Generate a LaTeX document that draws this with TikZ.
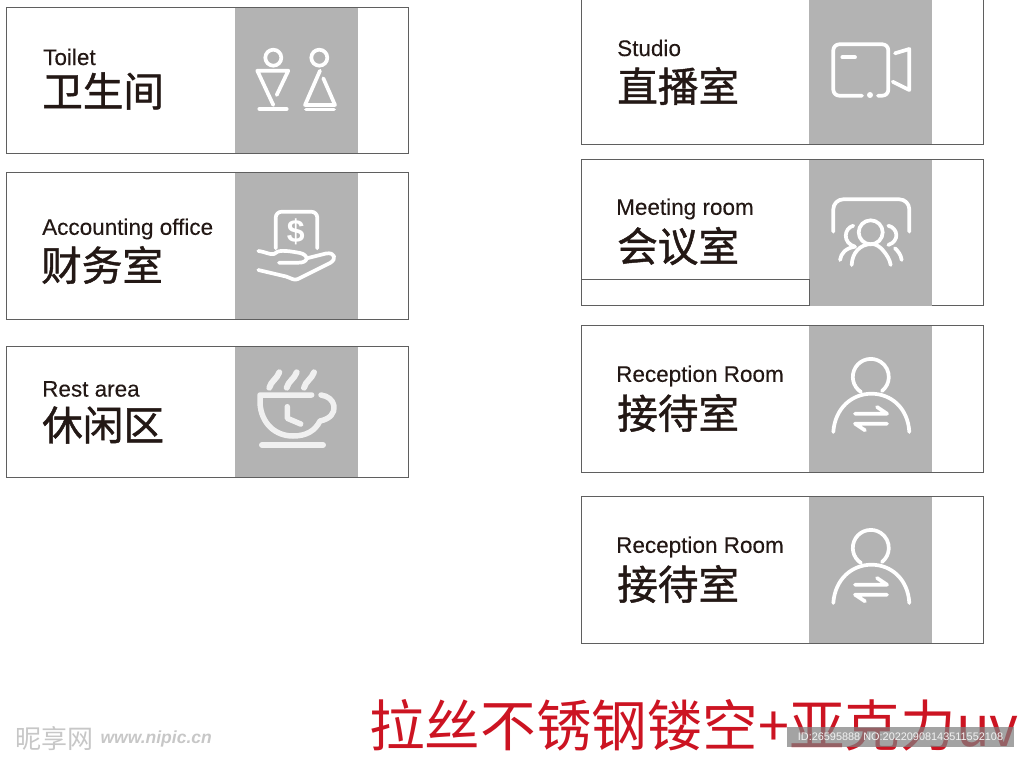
\documentclass[tikz,border=0pt]{standalone}
\usepackage{fontspec}
\setmainfont[FakeBold=0.15]{Liberation Sans}
\newfontfamily\cjk[FakeBold=1.1]{Noto Sans CJK SC}
\newfontfamily\cjkred{Noto Sans CJK SC}
\newfontfamily\plainsans{Liberation Sans}
\usepackage{tikz}
\usetikzlibrary{positioning}
\definecolor{bandgray}{HTML}{B3B3B3}
\definecolor{edgegray}{HTML}{5F5F5F}
\definecolor{inkblack}{HTML}{231815}
\definecolor{signred}{HTML}{CC1422}
\tikzset{
 signbox/.style={draw=edgegray,line width=0.8pt,fill=white,anchor=north west,inner sep=0pt},
 band/.style={fill=bandgray,anchor=north west,inner sep=0pt,minimum width=123pt},
 entitle/.style={anchor=west,inner sep=0pt,text=inkblack,font=\fontsize{22.5}{26}\selectfont},
 cntitle/.style={anchor=west,inner sep=0pt,text=inkblack,font=\fontsize{40.6}{44}\selectfont\cjk},
 iconline/.style={draw=white,line width=3.7pt,line cap=round,line join=round},
 iconthick/.style={draw=white!94!black,line width=5.5pt,line cap=round,line join=round},
}
\newcommand{\guesticon}{%
 \draw[iconline] (861,392) arc[start angle=123,end angle=412,radius=18];
 \draw[iconline] (833.3,432) .. controls (835,408) and (852,393.7) .. (871.5,393.7) .. controls (891,393.7) and (908,408) .. (909.3,432);
 \draw[iconline] (855,413.7) -- (887,413.7) -- (877,407);
 \draw[iconline] (887,423.7) -- (855,423.7) -- (865,430.3);
}
\begin{document}
\begin{tikzpicture}[x=1pt,y=-1pt]
 \useasboundingbox (0,0) rectangle (1024,757);
 % left column
 \node[signbox,minimum width=402pt,minimum height=146pt] (toiletbox) at (6,7) {};
 \node[signbox,minimum width=402pt,minimum height=147pt] (officebox) at (6,172) {};
 \node[signbox,minimum width=402pt,minimum height=131pt] (restbox) at (6,346) {};
 \node[band,minimum height=145pt] (toiletband) at (235,8) {};
 \node[band,minimum height=146pt] (officeband) at (235,173) {};
 \node[band,minimum height=130pt] (restband) at (235,347) {};
 \node[entitle] (toileten) at (43,57) {Toilet};
 \node[cntitle] (toiletcn) at (42,91) {卫生间};
 \node[entitle] (officeen) at (42,229) {Accounting office};
 \node[cntitle] (officecn) at (41,265) {财务室};
 \node[entitle] (resten) at (42,389) {Rest area};
 \node[cntitle] (restcn) at (42,425) {休闲区};
 % right column
 \node[signbox,minimum width=402pt,minimum height=146pt] (studiobox) at (581,-2) {};
 \node[signbox,minimum width=402pt,minimum height=146pt] (meetbox) at (581,159) {};
 \node[signbox,minimum width=402pt,minimum height=147pt] (recepbox) at (581,325) {};
 \node[signbox,minimum width=402pt,minimum height=147pt] (guestbox) at (581,496) {};
 \node[band,minimum height=144pt] (studioband) at (809,0) {};
 \node[band,minimum height=146pt] (meetband) at (809,160) {};
 \node[band,minimum height=146pt] (recepband) at (809,326) {};
 \node[band,minimum height=146pt] (guestband) at (809,497) {};
 \node[signbox,minimum width=228pt,minimum height=26pt] (meetstrip) at (581,279) {};
 \node[entitle] (studioen) at (617,48) {Studio};
 \node[cntitle] (studiocn) at (617,86) {直播室};
 \node[entitle] (meeten) at (616,209) {Meeting room};
 \node[cntitle] (meetcn) at (617,246) {会议室};
 \node[entitle] (recepen) at (616,376) {Reception Room};
 \node[cntitle] (recepcn) at (617,413) {接待室};
 \node[entitle] (guesten) at (616,547) {Reception Room};
 \node[cntitle] (guestcn) at (617,584) {接待室};
 % toilet icon
 \draw[iconline] (273.3,57.7) circle (8);
 \draw[iconline] (319.3,57.7) circle (8);
 \draw[iconline] (276.7,95) -- (288.3,70.7) -- (257.3,70.7) -- (273.3,105);
 \draw[iconline] (259.3,109) -- (286.7,109);
 \draw[iconline] (323.3,78.3) -- (335,105) -- (305,105) -- (320,70.7);
 \draw[iconline] (306,109.5) -- (334,109.5);
 % dollar icon
 \draw[iconline,rounded corners=6pt] (275.7,248.3) -- (275.7,211.7) -- (317.3,211.7) -- (317.3,248.3);
 \node[inner sep=0pt,text=white,font=\fontsize{32}{34}\selectfont\plainsans\bfseries] (dollar) at (295.7,232) {\$};
 \draw[iconline] (258.3,251) .. controls (266,252) and (270,255) .. (274,254) .. controls (278,250) and (284,250) .. (300,253) .. controls (309,255) and (309,263) .. (298,262.7) -- (279,262.7);
 \draw[iconline] (306.7,258.3) -- (326,253.5) .. controls (335,252) and (337,259) .. (330,263) -- (298,279) .. controls (294,281) and (291,278) .. (286,276.5) -- (258.3,270);
 % cup icon
 \foreach \sx in {0,17.4,34.7}{
  \draw[iconthick,line width=6pt] (269.3+\sx,387.7) .. controls (271+\sx,381) and (277+\sx,379) .. (279.3+\sx,372.3);
 }
 \draw[iconthick] (311.7,395) -- (260,395) -- (260,403) .. controls (261,423) and (275,436) .. (293,436) .. controls (306,436) and (315,431) .. (320,421) .. controls (330,419) and (335,413) .. (334,406) .. controls (333,400) and (328,396) .. (321,395);
 \draw[iconthick] (287.3,406.7) -- (287.3,418.3) -- (300.7,424);
 \draw[iconthick,line width=6pt] (262,445) -- (323,445);
 % camera icon
 \draw[iconline,rounded corners=6pt] (862,95.7) -- (833.3,95.7) -- (833.3,44.3) -- (888.3,44.3) -- (888.3,95.7) -- (878,95.7);
 \fill[white] (870,95) circle (3);
 \draw[iconline] (842.3,57.3) -- (855,57.3);
 \draw[iconline] (895,53.3) -- (909.3,49) -- (909.3,90) -- (892.7,81.7);
 % meeting icon
 \draw[iconline,rounded corners=10pt] (833.3,231.7) -- (833.3,199.3) -- (909.3,199.3) -- (909.3,231.7);
 \draw[iconline] (870.7,232.3) circle (12);
 \draw[iconline] (851.7,265) .. controls (852,253) and (860,244) .. (872,244) .. controls (876,244) and (880,247) .. (882.7,250);
 \draw[iconline] (882.7,250) .. controls (887,255) and (890,260) .. (890.7,265);
 \draw[iconline] (853.3,225.7) .. controls (844,228) and (842,243) .. (855,246.7);
 \draw[iconline] (840,260) .. controls (841,253) and (846,248) .. (855,246.7);
 \draw[iconline] (888.3,225.7) .. controls (898,228) and (900,241) .. (888.3,245);
 \draw[iconline] (895,248.3) .. controls (898,251) and (901,255) .. (901.7,260);
 % reception icons
 \guesticon
 \begin{scope}[yshift=-171pt]
  \guesticon
 \end{scope}
 % bottom line
 \node[anchor=west,inner sep=0pt,text=signred,font=\fontsize{55.6}{60}\selectfont\cjkred] (material) at (369,725) {拉丝不锈钢镂空+亚克力uv};
 \node[fill=gray,fill opacity=0.72,text opacity=1,text=white!90!gray,minimum width=227pt,minimum height=20pt,inner sep=0pt,font=\fontsize{10.9}{13}\selectfont\plainsans] (idbar) at (900.5,737) {ID:26595888 NO:20220908143511552108};
 \node[anchor=west,inner sep=0pt,text=black!22,font=\fontsize{26}{28}\selectfont\cjkred] (markcn) at (15,739) {昵享网};
 \node[anchor=west,inner sep=0pt,text=black!22,font=\fontsize{17.5}{20}\selectfont\plainsans\itshape\bfseries,right=7pt of markcn] (markurl) {www.nipic.cn};
\end{tikzpicture}
\end{document}
